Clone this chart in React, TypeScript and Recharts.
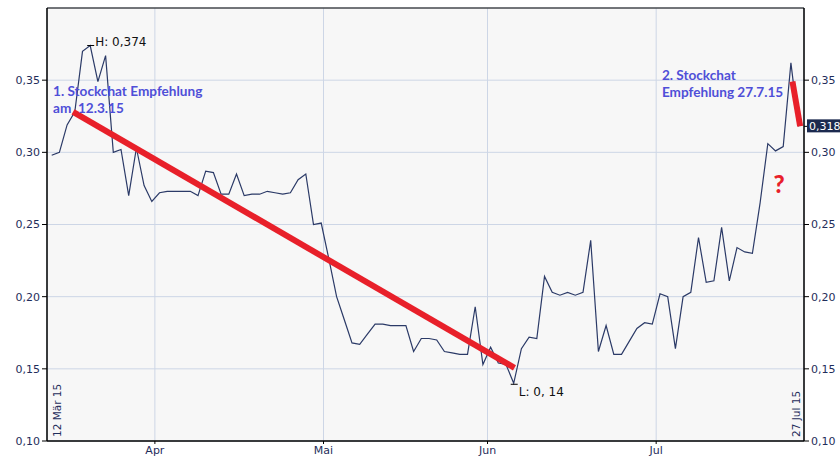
import React from "react";
import {
  LineChart,
  Line,
  XAxis,
  YAxis,
  CartesianGrid,
  ReferenceDot,
  ReferenceArea,
} from "recharts";

// closing prices, one per trading day from 12 Mär 15 to 27 Jul 15
const prices = [
  0.298, 0.3, 0.319, 0.328, 0.37, 0.374, 0.349, 0.367, 0.3, 0.302,
  0.27, 0.303, 0.277, 0.266, 0.272, 0.273, 0.273, 0.273, 0.273, 0.27,
  0.287, 0.286, 0.271, 0.271, 0.285, 0.27, 0.271, 0.271, 0.273, 0.272,
  0.271, 0.272, 0.281, 0.285, 0.25, 0.251, 0.226, 0.2, 0.184, 0.168,
  0.167, 0.174, 0.181, 0.181, 0.18, 0.18, 0.18, 0.162, 0.171, 0.171,
  0.17, 0.162, 0.161, 0.16, 0.16, 0.193, 0.153, 0.165, 0.154, 0.153,
  0.14, 0.164, 0.172, 0.171, 0.214, 0.203, 0.201, 0.203, 0.201, 0.203,
  0.239, 0.162, 0.18, 0.16, 0.16, 0.169, 0.178, 0.182, 0.181, 0.202,
  0.2, 0.164, 0.2, 0.203, 0.241, 0.21, 0.211, 0.248, 0.211, 0.234,
  0.231, 0.23, 0.265, 0.306, 0.301, 0.304, 0.362, 0.318,
];

const monthTicks = [13.4, 35.3, 56.6, 78.5];
const monthLabels = ["Apr", "Mai", "Jun", "Jul"];
const yTicks = [0.1, 0.15, 0.2, 0.25, 0.3, 0.35];
const xDomain = [-0.61, 97.7];
const yDomain = [0.1, 0.4];

const firstDate = "12 Mär 15";
const lastDate = "27 Jul 15";
const high = { i: 5, v: 0.374, label: "H: 0,374" };
const low = { i: 60, v: 0.14, label: "L: 0, 14" };
const lastPrice = { v: 0.318, label: "0,318" };

// hand drawn trend strokes
const trend1 = [
  { i: 2.77, v: 0.328 },
  { i: 60.1, v: 0.1507 },
];
const trend2 = [
  { i: 96.2, v: 0.349 },
  { i: 97.2, v: 0.318 },
];

const note1 = { i: 0.17, v: 0.339, lines: ["1. Stockchat Empfehlung", "am  12.3.15"] };
const note2 = { i: 79.25, v: 0.35, lines: ["2. Stockchat", "Empfehlung 27.7.15"] };
const question = { i: 94.45, v: 0.2715, text: "?" };

const rows = prices.map((p, i) => ({ i, p }));

const navy = "#1f2d5b";
const axisFont = { fontFamily: "DejaVu Sans", fontSize: 11, fill: navy };
const noteFont = { fontFamily: "Lato", fontWeight: 700, fontSize: 13.6, fill: "#4f4fd8" };

const fmt = (v: number) => v.toFixed(2).replace(".", ",");

export default function App() {
  return (
    <div style={{ width: 840, height: 460, background: "#fff" }}>
      <style>{`body{margin:0}`}</style>
      <LineChart
        width={840}
        height={460}
        data={rows}
        margin={{ top: 8, right: 0, left: 0, bottom: 0 }}
      >
        <CartesianGrid fill="#f7f7f7" stroke="#cdd6e6" strokeWidth={1} />
        <XAxis
          dataKey="i"
          type="number"
          domain={xDomain}
          allowDataOverflow
          ticks={monthTicks}
          interval={0}
          tickFormatter={(v) => monthLabels[monthTicks.indexOf(v)] ?? ""}
          tick={axisFont}
          tickSize={3}
          tickMargin={2}
          height={19}
          axisLine={{ stroke: "#000" }}
          tickLine={{ stroke: "#000" }}
        />
        <YAxis
          domain={yDomain}
          allowDataOverflow
          ticks={yTicks}
          interval={0}
          tickFormatter={fmt}
          tick={axisFont}
          width={47}
          tickSize={5}
          tickMargin={2}
          axisLine={{ stroke: "#000" }}
          tickLine={{ stroke: "#000" }}
        />
        <YAxis
          yAxisId="right"
          orientation="right"
          domain={yDomain}
          allowDataOverflow
          ticks={yTicks}
          interval={0}
          tickFormatter={fmt}
          tick={axisFont}
          width={36}
          tickSize={5}
          tickMargin={2}
          axisLine={{ stroke: "#000" }}
          tickLine={{ stroke: "#000" }}
        />
        <ReferenceArea
          x1={xDomain[0]}
          x2={xDomain[1]}
          y1={yDomain[0]}
          y2={yDomain[1]}
          fill="none"
          stroke="#000"
          strokeWidth={1}
        />
        <Line
          dataKey="p"
          type="linear"
          stroke="#2b3a67"
          strokeWidth={1.2}
          dot={false}
          activeDot={false}
          isAnimationActive={false}
        />
        <Line
          data={trend1}
          dataKey="v"
          type="linear"
          stroke="#e8202a"
          strokeWidth={6}
          dot={false}
          activeDot={false}
          isAnimationActive={false}
        />
        <Line
          data={trend2}
          dataKey="v"
          type="linear"
          stroke="#e8202a"
          strokeWidth={6}
          dot={false}
          activeDot={false}
          isAnimationActive={false}
        />
        <ReferenceDot
          x={high.i}
          y={high.v}
          r={1}
          shape={(p: any) => (
            <g>
              <line x1={p.cx - 3} x2={p.cx + 4} y1={p.cy} y2={p.cy} stroke="#000" />
              <text x={p.cx + 5} y={p.cy} fontFamily="DejaVu Sans" fontSize={12} fill="#111">
                {high.label}
              </text>
            </g>
          )}
        />
        <ReferenceDot
          x={low.i}
          y={low.v}
          r={1}
          shape={(p: any) => (
            <g>
              <line x1={p.cx - 3} x2={p.cx + 4} y1={p.cy + 1} y2={p.cy + 1} stroke="#000" />
              <text x={p.cx + 5} y={p.cy + 13} fontFamily="DejaVu Sans" fontSize={12} fill="#111" style={{ whiteSpace: "pre" }}>
                {low.label}
              </text>
            </g>
          )}
        />
        <ReferenceDot
          x={0}
          y={yDomain[0]}
          r={1}
          shape={(p: any) => (
            <text
              x={p.cx + 9.5}
              y={p.cy - 4}
              transform={`rotate(-90 ${p.cx + 9.5} ${p.cy - 4})`}
              {...axisFont}
              fontSize={10.5}
            >
              {firstDate}
            </text>
          )}
        />
        <ReferenceDot
          x={prices.length - 1}
          y={yDomain[0]}
          r={1}
          shape={(p: any) => (
            <text
              x={p.cx + 1.5}
              y={p.cy - 4}
              transform={`rotate(-90 ${p.cx + 1.5} ${p.cy - 4})`}
              {...axisFont}
              fontSize={10.5}
            >
              {lastDate}
            </text>
          )}
        />
        <ReferenceDot
          x={xDomain[1]}
          y={lastPrice.v}
          r={1}
          shape={(p: any) => (
            <g>
              <line x1={p.cx} x2={p.cx + 4} y1={p.cy} y2={p.cy} stroke="#000" />
              <rect x={p.cx + 3} y={p.cy - 7} width={36} height={13} fill="#1c2a4f" />
              <text x={p.cx + 5} y={p.cy + 4} fontFamily="DejaVu Sans" fontSize={11} fill="#fff">
                {lastPrice.label}
              </text>
            </g>
          )}
        />
        {[note1, note2].map((n, k) => (
          <ReferenceDot
            key={k}
            x={n.i}
            y={n.v}
            r={1}
            shape={(p: any) => (
              <text x={p.cx} y={p.cy} {...noteFont} style={{ whiteSpace: "pre" }}>
                {n.lines.map((t, j) => (
                  <tspan key={j} x={p.cx} dy={j === 0 ? 0 : 17}>
                    {t}
                  </tspan>
                ))}
              </text>
            )}
          />
        ))}
        <ReferenceDot
          x={question.i}
          y={question.v}
          r={1}
          shape={(p: any) => (
            <text
              x={p.cx}
              y={p.cy}
              textAnchor="middle"
              fontFamily="Lato"
              fontWeight={900}
              fontSize={24}
              fill="#e8202a"
            >
              {question.text}
            </text>
          )}
        />
      </LineChart>
    </div>
  );
}
